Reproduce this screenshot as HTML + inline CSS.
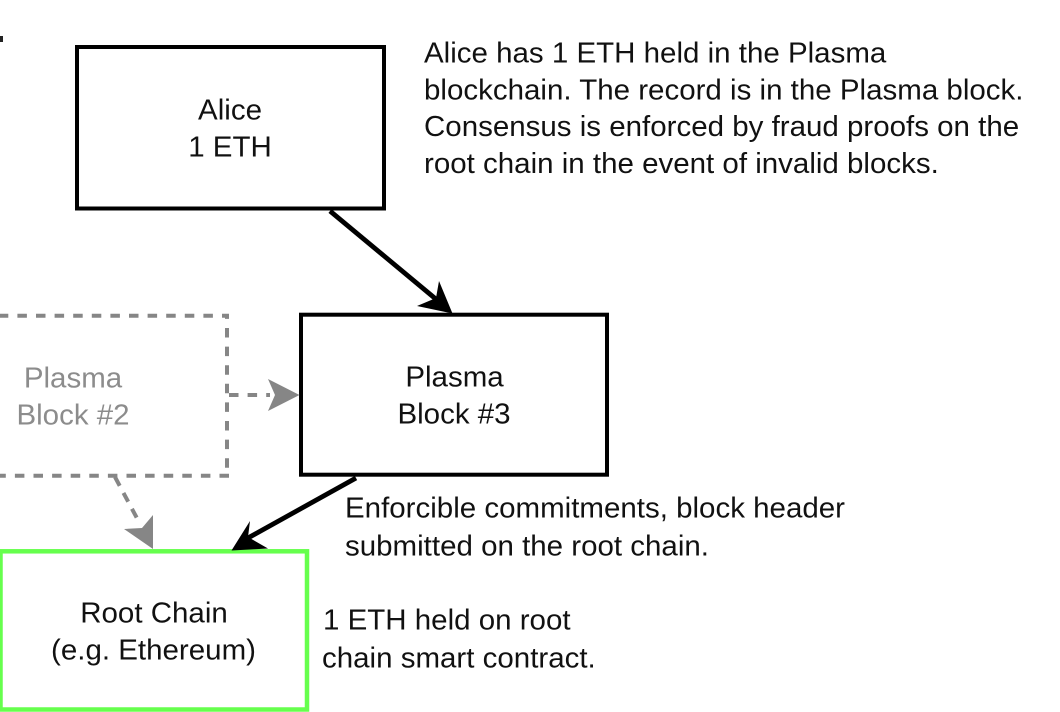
<!DOCTYPE html>
<html><head><meta charset="utf-8">
<style>html,body{margin:0;padding:0;background:#fff}svg{display:block;filter:blur(.35px)}
text{font-family:"Liberation Sans",sans-serif;font-size:28.500px;fill:#111}
.c{text-anchor:middle}.g{fill:#8c8c8c}</style></head>
<body>
<svg width="1060" height="712" viewBox="0 0 1060 712" xmlns="http://www.w3.org/2000/svg">
<rect width="1060" height="712" fill="#fff"/>
<rect x="0" y="36" width="3" height="6" fill="#222"/>
<rect x="77" y="47" width="307" height="161.500" fill="none" stroke="#000" stroke-width="4"/>
<rect x="301" y="314.700" width="306" height="160" fill="none" stroke="#000" stroke-width="4"/>
<g fill="none" stroke="#868686" stroke-width="4" stroke-dasharray="9.500 9.100">
<path d="M229 315.700H-10" stroke-dashoffset="2.500"/>
<path d="M227 315.700V475" stroke-dashoffset="6.300"/>
<path d="M229 475.700H-10"/>
<path d="M229 395H270"/>
<path d="M115 477L139 522" stroke-dasharray="10 8"/>
</g>
<rect x="0.500" y="551.300" width="306.500" height="158.200" fill="none" stroke="#66ff4d" stroke-width="4.500"/>
<path d="M330 211L437 300" stroke="#000" stroke-width="4.800" fill="none"/>
<path d="M452.500 313.500L439 281L436 298L417 306Z" fill="#000"/>
<path d="M356 478L248 538" stroke="#000" stroke-width="4.800" fill="none"/>
<path d="M231.500 550.500L250 521L248 537L268 548.500Z" fill="#000"/>
<path d="M299.500 395L268 379L275 395L268 411Z" fill="#868686"/>
<path d="M153 549L124 529L142 528L153 515Z" fill="#868686"/>
<text class="c" transform="translate(230,119.500) scale(1.035,1)">Alice</text>
<text class="c" transform="translate(230,156.500) scale(1.035,1)">1 ETH</text>
<text class="c" transform="translate(454.500,386.500) scale(1.035,1)">Plasma</text>
<text class="c" transform="translate(454,423.500) scale(1.035,1)">Block #3</text>
<text class="c g" transform="translate(73,387.500) scale(1.035,1)">Plasma</text>
<text class="c g" transform="translate(73,424.500) scale(1.035,1)">Block #2</text>
<text class="c" transform="translate(154,622.500) scale(1.035,1)">Root Chain</text>
<text class="c" transform="translate(153.500,659.500) scale(1.035,1)">(e.g. Ethereum)</text>
<text transform="translate(424,62.500) scale(1.035,1)">Alice has 1 ETH held in the Plasma</text>
<text transform="translate(424,99.500) scale(1.035,1)">blockchain. The record is in the Plasma block.</text>
<text transform="translate(424,136) scale(1.035,1)">Consensus is enforced by fraud proofs on the</text>
<text transform="translate(424,173) scale(1.035,1)">root chain in the event of invalid blocks.</text>
<text transform="translate(345,517.500) scale(1.035,1)">Enforcible commitments, block header</text>
<text transform="translate(345,555.500) scale(1.035,1)">submitted on the root chain.</text>
<text transform="translate(323,629.500) scale(1.035,1)">1 ETH held on root</text>
<text transform="translate(322,667.500) scale(1.035,1)">chain smart contract.</text>
</svg>
</body></html>
